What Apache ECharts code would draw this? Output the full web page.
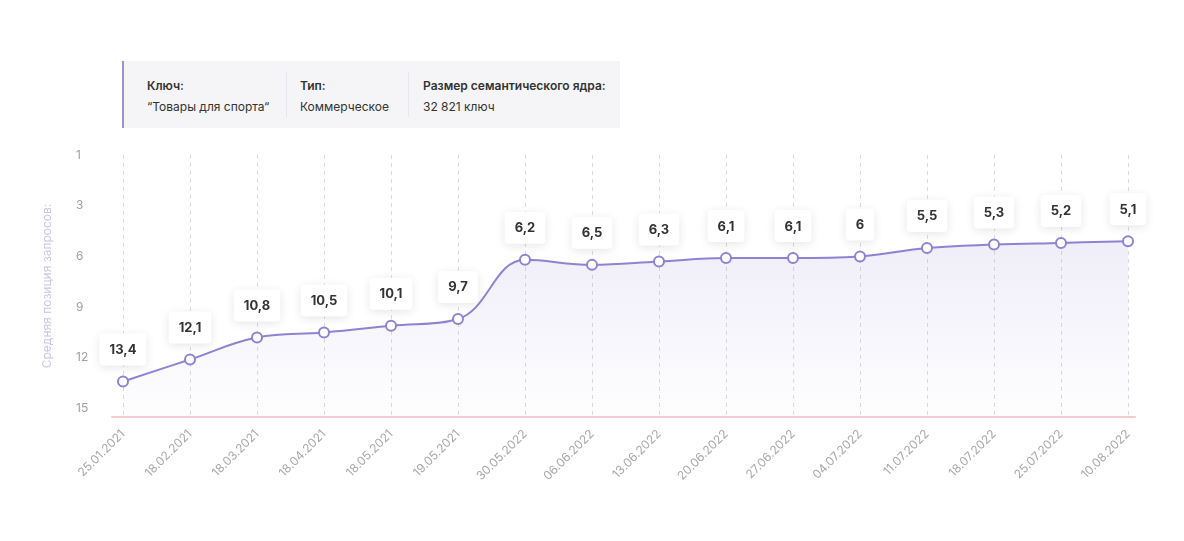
<!DOCTYPE html>
<html>
<head>
<meta charset="utf-8">
<title>Средняя позиция запросов</title>
<script src="https://cdn.jsdelivr.net/npm/echarts@6/dist/echarts.min.js"></script>
<style>
    html, body { margin: 0; padding: 0; background: #fff; }
    #wrap { position: relative; width: 1184px; height: 541px; font-family: Inter, "Noto Sans", sans-serif; }
    #chart { position: absolute; left: 0; top: 0; width: 1184px; height: 541px; }
    .info {
        position: absolute; left: 122px; top: 61px; width: 498px; height: 67px;
        background: #f5f5f8; border-left: 2px solid #9a90d4; box-sizing: border-box;
        display: flex; color: #333; font-size: 12px; white-space: nowrap;
    }
    .info .col { box-sizing: border-box; height: 45px; margin-top: 11px; padding-top: 6px; border-right: 1px solid #e6e6ee; }
    .info .col:last-child { border-right: none; }
    .info b { display: block; font-weight: 600; margin-bottom: 6px; }
</style>
</head>
<body>
<div id="wrap">
    <div id="chart"></div>
    <div class="info">
        <div class="col" style="width:163px;padding-left:23px">
            <b>Ключ:</b>“Товары для спорта“
        </div>
        <div class="col" style="width:122px;padding-left:13px">
            <b>Тип:</b>Коммерческое
        </div>
        <div class="col" style="padding-left:14px">
            <b>Размер семантического ядра:</b>32 821 ключ
        </div>
    </div>
</div>

<script type="text/javascript">
    var dates = ['25.01.2021', '18.02.2021', '18.03.2021', '18.04.2021', '18.05.2021', '19.05.2021',
        '30.05.2022', '06.06.2022', '13.06.2022', '20.06.2022', '27.06.2022', '04.07.2022',
        '11.07.2022', '18.07.2022', '25.07.2022', '10.08.2022']
    var positions = [13.4, 12.1, 10.8, 10.5, 10.1, 9.7, 6.2, 6.5, 6.3, 6.1, 6.1, 6, 5.5, 5.3, 5.2, 5.1]
    var yTicks = [0, 3, 6, 9, 12, 15]
    var yTickLabels = ['1', '3', '6', '9', '12', '15']

    var chart = echarts.init(document.getElementById('chart'))
    var option = {
        textStyle: { fontFamily: 'Inter' },
        grid: [
            { left: 123, right: 56, top: 155, bottom: 124 },
            { left: 112, right: 49, top: 155, bottom: 124 }
        ],
        xAxis: [{
            type: 'category',
            data: dates,
            boundaryGap: false,
            axisLine: { show: false },
            axisTick: { show: false },
            axisLabel: { rotate: 45, color: '#a8a8a8', fontSize: 12, margin: 15 },
            splitLine: { show: true, lineStyle: { color: '#dcdcdc', type: [4, 4] } }
        }, {
            gridIndex: 1,
            type: 'value',
            min: 0,
            max: 1,
            axisLine: { show: true, lineStyle: { color: '#f7c9cf', width: 2 } },
            axisTick: { show: false },
            axisLabel: { show: false },
            splitLine: { show: false }
        }],
        yAxis: [{
            type: 'value',
            inverse: true,
            min: 0,
            max: 15.5,
            interval: 3,
            name: 'Средняя позиция запросов:',
            nameLocation: 'middle',
            nameGap: 70,
            nameTextStyle: { color: '#cbc5e8', fontSize: 12 },
            axisLine: { show: false },
            axisTick: { show: false },
            splitLine: { show: false },
            axisLabel: {
                color: '#a0a0a0', fontSize: 12, align: 'left', margin: 47,
                formatter: function (v) {
                    var i = yTicks.indexOf(v)
                    return i >= 0 ? yTickLabels[i] : ''
                }
            }
        }, {
            gridIndex: 1,
            type: 'value',
            show: false
        }],
        series: [{
            type: 'line',
            data: positions,
            smooth: 0.4,
            symbol: 'circle',
            symbolSize: 10,
            lineStyle: { color: '#8f82d2', width: 2 },
            itemStyle: { color: '#fff', borderColor: '#8f82d2', borderWidth: 2 },
            areaStyle: {
                origin: 'end',
                color: new echarts.graphic.LinearGradient(0, 0, 0, 1, [
                    { offset: 0, color: 'rgba(143,130,210,0.20)' },
                    { offset: 1, color: 'rgba(143,130,210,0.01)' }
                ])
            },
            label: {
                show: true,
                position: 'top',
                distance: 10,
                color: '#333',
                fontSize: 13,
                fontWeight: 700,
                backgroundColor: '#fff',
                borderRadius: 4,
                padding: [10, 10, 9, 10],
                shadowColor: 'rgba(0,0,0,0.10)',
                shadowBlur: 10,
                shadowOffsetY: 2,
                formatter: function (p) {
                    return String(p.value).replace('.', ',')
                }
            },
            z: 3
        }]
    }
    chart.setOption(option)
</script>
</body>
</html>
